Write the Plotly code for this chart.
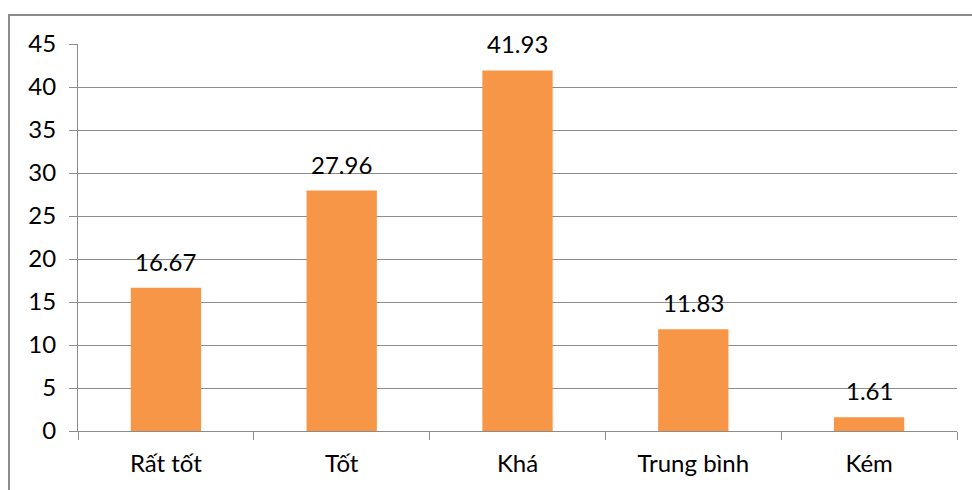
import plotly.graph_objects as go

categories = ["Rất tốt", "Tốt", "Khá", "Trung bình", "Kém"]
values = [16.67, 27.96, 41.93, 11.83, 1.61]
y_ticks = [0, 5, 10, 15, 20, 25, 30, 35, 40, 45]

BAR_COLOR = "#F79646"
GRID = "#8C8C8C"
FONT = "Lato"
FS = 24

fig = go.Figure(
    go.Bar(
        x=categories,
        y=values,
        marker=dict(color=BAR_COLOR, line=dict(width=0)),
        width=0.4,
        hoverinfo="x+y",
    )
)

# value labels above each bar
for c, v in zip(categories, values):
    fig.add_annotation(
        x=c, y=v, text=f"{v:.2f}", showarrow=False,
        yanchor="bottom", yshift=10,
        font=dict(family=FONT, size=FS, color="#000000"),
    )

W, H = 972, 490
ml, mr, mt, mb = 78, 15, 44, 59
pw, ph = W - ml - mr, H - mt - mb

# outer chart frame (its right and bottom edges run off the page)
fig.add_shape(
    type="rect", xref="paper", yref="paper", layer="below",
    x0=(9 - ml) / pw, x1=(W + 20 - ml) / pw,
    y0=-(mb + 20) / ph, y1=(H - mb - 15) / ph,
    line=dict(color="#8C8C8C", width=2), fillcolor="rgba(0,0,0,0)",
)

fig.update_layout(
    width=W, height=H,
    margin=dict(l=ml, r=mr, t=mt, b=mb),
    paper_bgcolor="white", plot_bgcolor="white",
    showlegend=False,
    bargap=0.6,
    font=dict(family=FONT, size=FS, color="#000000"),
    xaxis=dict(
        type="category",
        showgrid=False,
        showline=True, linecolor=GRID, linewidth=1,
        ticks="outside", tickson="boundaries", ticklen=8,
        tickcolor=GRID, tickwidth=1,
        ticklabelstandoff=11,
        tickfont=dict(family=FONT, size=FS, color="#000000"),
    ),
    yaxis=dict(
        range=[0, 45],
        tickvals=y_ticks,
        showgrid=True, gridcolor=GRID, gridwidth=1,
        showline=True, linecolor=GRID, linewidth=1,
        ticks="outside", ticklen=8, tickcolor=GRID, tickwidth=1,
        ticklabelstandoff=8,
        zeroline=False,
        tickfont=dict(family=FONT, size=FS, color="#000000"),
    ),
)

fig.write_html("out.html")
